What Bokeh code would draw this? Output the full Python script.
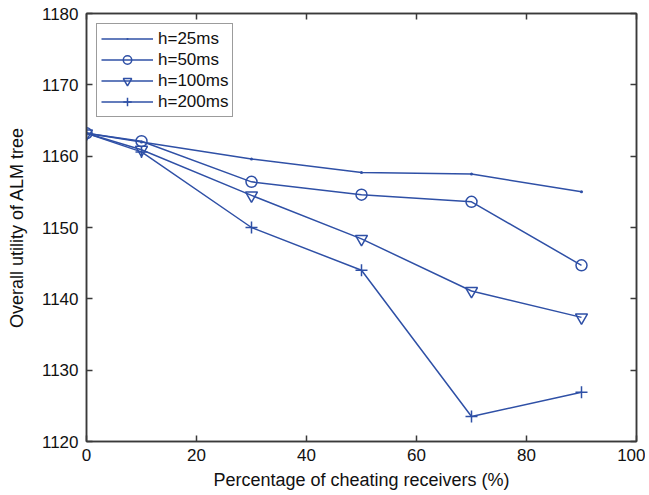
from bokeh.plotting import figure
from bokeh.models import FixedTicker, LinearAxis, Range1d, CustomJSTickFormatter
from bokeh.embed import file_html
from bokeh.resources import INLINE

x = [0, 10, 30, 50, 70, 90]
h25 = [1163.2, 1162.0, 1159.6, 1157.7, 1157.5, 1155.0]
h50 = [1163.2, 1162.1, 1156.4, 1154.6, 1153.6, 1144.7]
h100 = [1163.2, 1160.9, 1154.5, 1148.4, 1141.1, 1137.4]
h200 = [1163.2, 1160.6, 1150.0, 1144.0, 1123.5, 1126.9]
labels = ["h=25ms", "h=50ms", "h=100ms", "h=200ms"]
markers = ["dot", "circle", "inverted_triangle", "cross"]
sizes = [12, 11, 12, 12]

C = "#2f50a6"
FONT = "Liberation Sans"
AX = "#3a3a3a"

p = figure(frame_width=550, frame_height=428, output_backend="svg", toolbar_location=None,
           x_range=Range1d(0, 100), y_range=Range1d(1120, 1180),
           min_border_left=86, min_border_right=9, min_border_top=13, min_border_bottom=50)
p.xgrid.visible = False
p.ygrid.visible = False
p.outline_line_color = AX
p.outline_line_width = 1.5

for ys, lab, mk, sz in zip([h25, h50, h100, h200], labels, markers, sizes):
    p.line(x, ys, line_color=C, line_width=1.5, legend_label=lab)
    p.scatter(x, ys, marker=mk, size=sz, line_color=C, line_width=1.5,
              fill_color=None, legend_label=lab)

xt = FixedTicker(ticks=[0, 20, 40, 60, 80, 100])
yt = FixedTicker(ticks=[1120, 1130, 1140, 1150, 1160, 1170, 1180])

for ax in [p.xaxis[0], p.yaxis[0]]:
    ax.axis_line_color = AX
    ax.axis_line_width = 1.5
    ax.major_tick_line_color = AX
    ax.major_tick_line_width = 1.5
    ax.major_tick_in = 6
    ax.major_tick_out = 0
    ax.minor_tick_line_color = None
    ax.major_label_text_font = FONT
    ax.major_label_text_font_size = "17px"
    ax.major_label_text_color = "#111111"
    ax.axis_label_text_font = FONT
    ax.axis_label_text_font_size = "18px"
    ax.axis_label_text_font_style = "normal"
    ax.axis_label_text_color = "#111111"

p.xaxis[0].ticker = xt
p.yaxis[0].ticker = yt
p.xaxis[0].axis_label = "Percentage of cheating receivers (%)"
p.yaxis[0].axis_label = "Overall utility of ALM tree"
p.xaxis[0].major_label_standoff = 7
p.yaxis[0].major_label_standoff = 8
p.xaxis[0].axis_label_standoff = 6
p.yaxis[0].axis_label_standoff = 12

for loc, tk in [("right", yt), ("above", xt)]:
    a = LinearAxis(ticker=tk, formatter=CustomJSTickFormatter(code="return ''"))
    a.axis_line_color = AX
    a.axis_line_width = 1.5
    a.major_tick_line_color = AX
    a.major_tick_line_width = 1.5
    a.major_tick_in = 6
    a.major_tick_out = 0
    a.minor_tick_line_color = None
    a.major_label_text_font_size = "1px"
    a.major_label_standoff = 0
    p.add_layout(a, loc)

lg = p.legend[0]
lg.location = "top_left"
lg.border_line_color = AX
lg.border_line_width = 1.2
lg.background_fill_color = "white"
lg.label_text_font = FONT
lg.label_text_font_size = "17px"
lg.label_text_color = "#111111"
lg.glyph_width = 52
lg.glyph_height = 21
lg.label_height = 21
lg.spacing = 0
lg.padding = 4
lg.margin = 10
lg.label_standoff = 5

open("out.html", "w").write(file_html(p, INLINE))
